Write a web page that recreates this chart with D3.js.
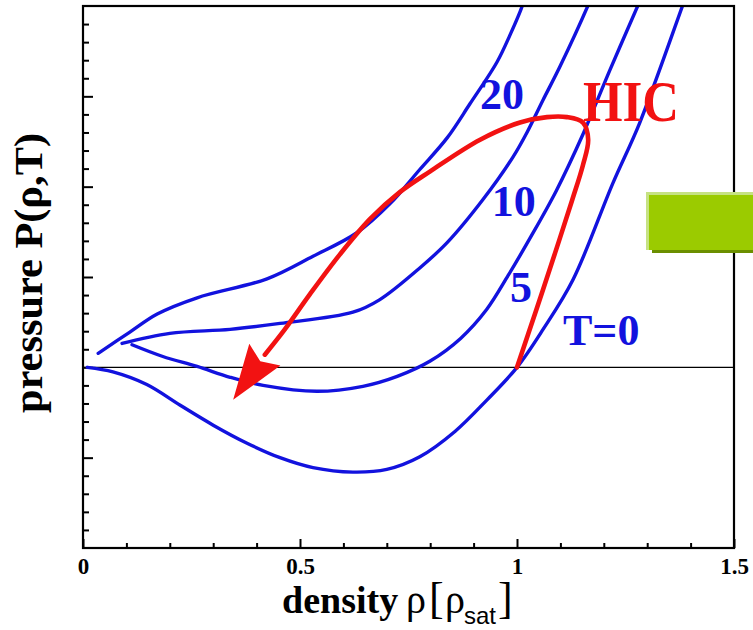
<!DOCTYPE html>
<html>
<head>
<meta charset="utf-8">
<script src="https://cdn.jsdelivr.net/npm/d3@7"></script>
<style>
  html, body { margin: 0; padding: 0; background: #fff; }
  svg { display: block; }
</style>
</head>
<body>
<div id="chart"></div>
<script>
const width = 753;
const height = 630;

// isotherms, [density rho/rho_sat, pressure (arb. units)]
const curveT0 = [
  [0.01, 0], [0.069, -0.05], [0.147, -0.19], [0.224, -0.42], [0.3, -0.64],
  [0.378, -0.84], [0.454, -1.0], [0.53, -1.11], [0.622, -1.16], [0.7, -1.13],
  [0.776, -0.99], [0.857, -0.71], [0.931, -0.36], [1.0, 0], [1.06, 0.42],
  [1.129, 0.97], [1.221, 2.04], [1.283, 2.71], [1.382, 4.01], [1.4, 4.25]
];
const curveT5 = [
  [0.113, 0.25], [0.184, 0.12], [0.263, 0.01], [0.339, -0.11], [0.415, -0.2],
  [0.539, -0.265], [0.645, -0.21], [0.724, -0.1], [0.8, 0.07], [0.87, 0.32],
  [0.93, 0.64], [0.98, 1.02], [1.03, 1.43], [1.09, 1.95], [1.152, 2.58],
  [1.214, 3.29], [1.279, 4.01], [1.3, 4.25]
];
const curveT10 = [
  [0.09, 0.265], [0.2, 0.376], [0.339, 0.42], [0.454, 0.486], [0.622, 0.61],
  [0.684, 0.75], [0.776, 1.1], [0.839, 1.38], [0.922, 1.86], [0.991, 2.33],
  [1.023, 2.6], [1.06, 2.96], [1.099, 3.33], [1.164, 4.01], [1.18, 4.2]
];
const curveT20 = [
  [0.035, 0.155], [0.108, 0.39], [0.171, 0.59], [0.263, 0.77], [0.424, 0.98],
  [0.53, 1.23], [0.631, 1.49], [0.707, 1.81], [0.776, 2.19], [0.839, 2.54],
  [0.892, 2.92], [0.954, 3.38], [0.984, 3.68], [1.012, 4.0], [1.02, 4.15]
];
// heavy-ion collision trajectory, ending in the arrow tip
const hicPath = [
  [1.0, 0], [1.044, 0.63], [1.088, 1.27], [1.127, 1.85], [1.152, 2.24],
  [1.164, 2.52], [1.152, 2.71], [1.115, 2.77], [1.069, 2.77], [1.007, 2.71],
  [0.915, 2.52], [0.8, 2.17], [0.73, 1.94], [0.661, 1.64], [0.592, 1.25],
  [0.523, 0.81], [0.465, 0.42], [0.419, 0.14]
];
const hicTip = [0.346, -0.36];

const curveLabels = [
  { text: "20", rho: 0.915, p: 2.86 },
  { text: "10", rho: 0.942, p: 1.67 },
  { text: "5", rho: 0.984, p: 0.72 },
  { text: "T=0", rho: 1.106, p: 0.25 }
];

const xMajor = [0, 0.5, 1, 1.5];
const xTickLabels = ["0", "0.5", "1", "1.5"];
const xMinor = d3.range(1, 15).map((i) => i / 10).filter((v) => !xMajor.includes(v));
const yMajor = [-1, 0, 1, 2, 3];
const yMinor = d3.range(-9, 20).map((i) => i / 5).filter((v) => !yMajor.includes(v));

const blue = "#1212de";
const red = "#f21212";
const serif = "'Liberation Serif','Times New Roman',serif";

const x = d3.scaleLinear().domain([0, 1.5]).range([83, 734]);
const y = d3.scaleLinear().domain([-2, 4]).range([548, 6]);

const svg = d3
  .select("#chart")
  .append("svg")
  .attr("width", width)
  .attr("height", height);

svg.append("defs")
  .append("clipPath")
  .attr("id", "plot")
  .append("rect")
  .attr("x", x(0))
  .attr("y", y(4))
  .attr("width", x(1.5) - x(0))
  .attr("height", y(-2) - y(4));

// ticks
function styleAxis(g) {
  g.select(".domain").remove();
  g.selectAll(".tick line").attr("stroke", "#000").attr("stroke-width", 2);
}

svg.append("g")
  .attr("transform", `translate(0,${y(-2)})`)
  .call(d3.axisBottom(x).tickValues(xMinor).tickSize(-5).tickFormat(""))
  .call(styleAxis);

svg.append("g")
  .attr("transform", `translate(0,${y(-2)})`)
  .call(d3.axisBottom(x).tickValues(xMajor).tickSizeInner(-9).tickSizeOuter(0)
    .tickPadding(10).tickFormat((d, i) => xTickLabels[i]))
  .call(styleAxis)
  .call((g) => g.attr("font-size", null).attr("font-family", null))
  .selectAll("text")
  .attr("fill", "#000")
  .style("font-family", serif)
  .style("font-weight", "bold")
  .style("font-size", "23px");

svg.append("g")
  .attr("transform", `translate(${x(0)},0)`)
  .call(d3.axisLeft(y).tickValues(yMinor).tickSize(-6).tickFormat(""))
  .call(styleAxis);

svg.append("g")
  .attr("transform", `translate(${x(0)},0)`)
  .call(d3.axisLeft(y).tickValues(yMajor).tickSize(-10).tickFormat(""))
  .call(styleAxis);

// zero line
svg.append("line")
  .attr("x1", x(0))
  .attr("x2", x(1.5))
  .attr("y1", y(0))
  .attr("y2", y(0))
  .attr("stroke", "#000")
  .attr("stroke-width", 1.2);

const line = d3
  .line()
  .x((d) => x(d[0]))
  .y((d) => y(d[1]))
  .curve(d3.curveCatmullRom.alpha(0.5));

const curves = svg.append("g").attr("clip-path", "url(#plot)");

curves.selectAll(".iso")
  .data([curveT0, curveT5, curveT10, curveT20])
  .join("path")
  .classed("iso", true)
  .attr("d", line)
  .attr("fill", "none")
  .attr("stroke", blue)
  .attr("stroke-width", 3.4)
  .attr("stroke-linecap", "round");

curves.append("path")
  .attr("d", line(hicPath))
  .attr("fill", "none")
  .attr("stroke", red)
  .attr("stroke-width", 4.6)
  .attr("stroke-linecap", "round");

// arrow head
const last = hicPath[hicPath.length - 1];
const tx = x(hicTip[0]), ty = y(hicTip[1]);
const bx = x(last[0]), by = y(last[1]);
const len = Math.hypot(tx - bx, ty - by);
const ux = (tx - bx) / len, uy = (ty - by) / len;
const half = 19;
curves.append("path")
  .attr("d", `M${tx},${ty}L${bx - uy * half},${by + ux * half}L${bx + ux * 8},${by + uy * 8}L${bx + uy * half},${by - ux * half}Z`)
  .attr("fill", red);

// frame
svg.append("rect")
  .attr("x", x(0))
  .attr("y", y(4))
  .attr("width", x(1.5) - x(0))
  .attr("height", y(-2) - y(4))
  .attr("fill", "none")
  .attr("stroke", "#000")
  .attr("stroke-width", 2.2);

// curve labels
svg.selectAll(".clabel")
  .data(curveLabels)
  .join("text")
  .classed("clabel", true)
  .attr("x", (d) => x(d.rho))
  .attr("y", (d) => y(d.p))
  .attr("fill", blue)
  .style("font-family", serif)
  .style("font-weight", "bold")
  .style("font-size", "44px")
  .text((d) => d.text);

svg.append("text")
  .attr("x", x(1.152))
  .attr("y", y(2.73))
  .attr("fill", red)
  .attr("textLength", 96)
  .attr("lengthAdjust", "spacingAndGlyphs")
  .style("font-family", serif)
  .style("font-weight", "bold")
  .style("font-size", "56px")
  .text("HIC");

// green box on the right edge
const box = svg.append("g");
box.append("rect").attr("x", 652).attr("y", 196).attr("width", 110).attr("height", 57).attr("fill", "#6b8f00");
box.append("rect").attr("x", 646).attr("y", 192).attr("width", 110).attr("height", 58).attr("fill", "#c6e283");
box.append("rect").attr("x", 649).attr("y", 195).attr("width", 110).attr("height", 55).attr("fill", "#9bcb00");

// axis titles
const xt = svg.append("text")
  .attr("y", 613)
  .attr("fill", "#000")
  .style("font-family", serif)
  .style("font-size", "40px");
xt.append("tspan").attr("x", 282).style("font-weight", "bold").style("font-size", "38px").text("density");
xt.append("tspan").attr("x", 406).text("ρ");
xt.append("tspan").attr("x", 429).style("font-size", "44px").text("[");
xt.append("tspan").attr("x", 445).text("ρ");
xt.append("tspan").attr("x", 464).attr("dy", 11)
  .style("font-family", "'Liberation Sans',Arial,sans-serif").style("font-size", "24px").text("sat");
xt.append("tspan").attr("dx", 2).attr("dy", -11).style("font-size", "44px").text("]");

svg.append("text")
  .attr("transform", "translate(42,273) rotate(-90)")
  .attr("text-anchor", "middle")
  .attr("fill", "#000")
  .attr("textLength", 280)
  .attr("lengthAdjust", "spacingAndGlyphs")
  .style("font-family", serif)
  .style("font-weight", "bold")
  .style("font-size", "39px")
  .text("pressure P(ρ,T)");
</script>
</body>
</html>
